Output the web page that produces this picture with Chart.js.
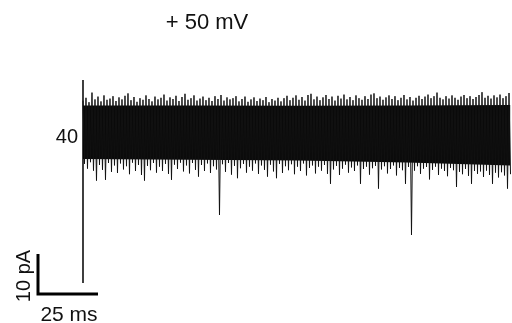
<!DOCTYPE html>
<html>
<head>
<meta charset="utf-8">
<script src="https://cdn.jsdelivr.net/npm/chart.js@4"></script>
<style>
  body { margin: 0; background: #fff; }
  #trace { display: block; }
</style>
</head>
<body>
<canvas id="trace" width="512" height="323"></canvas>
<script>
// single channel recording, +50 mV. time in ms, current in pA
const PAIR_MS = 1.25;

// upper excursions of the trace (pA), one per PAIR_MS
const tops = [
  47.6, 48.3, 47.2, 49.6, 47.9, 48.6, 47.4, 48.9, 47.8, 48.1,
  48.7, 47.5, 48.4, 47.9, 48.8, 49.4, 47.7, 48.5, 47.3, 48.2,
  47.8, 48.9, 48.0, 47.4, 48.6, 47.9, 48.3, 49.1, 47.6, 48.4,
  48.0, 48.8, 47.5, 48.5, 49.3, 47.8, 48.2, 48.9, 47.6, 48.1,
  48.6, 47.7, 48.3, 47.5, 48.7, 48.0, 49.0, 47.6, 48.4, 47.9,
  48.2, 48.7, 47.4, 48.0, 48.6, 47.3, 47.9, 48.4, 47.5, 48.1,
  47.7, 48.5, 47.2, 48.0, 47.6, 48.3, 47.4, 48.2, 48.8, 47.7,
  48.3, 48.9, 47.8, 48.5, 47.6, 49.0, 49.3, 47.9, 48.6, 47.7,
  48.4, 49.0, 48.0, 48.6, 47.6, 48.8, 48.1, 49.1, 47.9, 48.5,
  47.7, 48.9, 48.2, 47.8, 48.7, 48.0, 49.1, 49.4, 48.2, 48.6,
  47.8, 48.4, 48.9, 48.0, 48.7, 47.7, 48.3, 49.0, 47.9, 48.5,
  47.6, 48.3, 48.8, 48.0, 48.6, 49.1, 48.2, 48.7, 49.6, 48.3,
  47.9, 48.7, 48.1, 48.9, 48.3, 47.8, 48.6, 49.0, 48.2, 48.7,
  48.0, 48.5, 49.0, 49.7, 48.3, 48.8, 48.1, 48.9, 48.4, 49.1,
  48.2, 48.7, 49.5
];

// lower excursions of the trace (pA)
const bottoms = [
  31.8, 30.6, 32.2, 30.1, 27.6, 31.5, 30.3, 27.8, 32.0, 29.8,
  31.4, 29.5, 31.9, 30.4, 31.2, 29.2, 32.1, 30.0, 31.5, 29.0,
  27.6, 31.3, 30.2, 32.0, 29.6, 31.1, 30.0, 31.8, 29.3, 27.8,
  31.6, 30.5, 32.1, 29.9, 31.4, 29.4, 32.0, 30.3, 28.6, 31.5,
  30.0, 31.9, 29.5, 31.2, 30.4, 19.0, 31.7, 29.8, 32.0, 29.1,
  31.3, 28.2, 30.7, 31.8, 29.6, 31.1, 30.1, 31.9, 29.3, 31.4,
  30.3, 28.6, 31.6, 29.9, 28.2, 31.8, 29.5, 31.2, 30.2, 31.7,
  29.2, 31.1, 30.0, 31.9, 28.9, 30.8, 31.4, 29.4, 31.1, 30.1,
  31.5, 29.3, 26.8, 30.4, 31.3, 29.0, 30.6, 31.6, 29.6, 30.9,
  30.0, 31.4, 26.8, 30.5, 31.1, 29.1, 30.7, 31.3, 25.6, 30.4,
  31.2, 29.4, 30.5, 31.4, 28.9, 30.8, 30.2, 26.8, 31.0, 14.0,
  30.1, 31.2, 29.3, 30.6, 31.0, 27.9, 30.3, 31.1, 29.0, 30.6,
  30.0, 28.7, 30.8, 30.2, 26.0, 29.8, 29.2, 30.5, 28.8, 26.8,
  30.0, 29.3, 29.9, 28.5, 30.1, 29.0, 26.8, 29.6, 28.4, 29.7,
  28.9, 25.6, 29.2
];

// the densely filled part of the noise band (pA)
const coreX = [0, 45, 90, 135, 178.1];
const coreTop = [46.4, 46.4, 46.3, 46.4, 46.5];
const coreBottom = [33.0, 32.8, 32.6, 32.1, 31.4];

// onset marker at t = 0
const markerX = [0, 0];
const markerY = [52.75, 2.0];

// scale bar: 10 pA / 25 ms
const scaleBarX = [-18.75, -18.75, 6.25];
const scaleBarY = [9.25, -0.75, -0.75];

const traceData = [];
for (let i = 0; i < tops.length; i++) {
  traceData.push({ x: i * PAIR_MS, y: tops[i] });
  traceData.push({ x: i * PAIR_MS + PAIR_MS / 2, y: bottoms[i] });
}
const toPoints = (xs, ys) => xs.map((x, i) => ({ x: x, y: ys[i] }));

const FONT = "'Liberation Sans', Arial, sans-serif";

const labels = {
  id: 'labels',
  afterDraw(chart) {
    const ctx = chart.ctx;
    ctx.save();
    ctx.fillStyle = '#111';
    ctx.textBaseline = 'alphabetic';

    ctx.font = '22px ' + FONT;
    ctx.textAlign = 'center';
    ctx.fillText('+ 50 mV', 207, 29);

    ctx.font = '20px ' + FONT;
    ctx.textAlign = 'right';
    ctx.fillText('40', 78, 143);

    ctx.font = '21px ' + FONT;
    ctx.textAlign = 'center';
    ctx.fillText('25 ms', 69, 321);

    ctx.font = '20px ' + FONT;
    ctx.translate(30, 276);
    ctx.rotate(-Math.PI / 2);
    ctx.fillText('10 pA', 0, 0);
    ctx.restore();
  }
};

new Chart(document.getElementById('trace'), {
  type: 'line',
  data: {
    datasets: [
      {
        data: traceData,
        borderColor: '#111',
        borderWidth: 1,
        pointRadius: 0,
        tension: 0
      },
      {
        data: toPoints(markerX, markerY),
        borderColor: '#000',
        borderWidth: 1.5,
        pointRadius: 0
      },
      {
        data: toPoints(scaleBarX, scaleBarY),
        borderColor: '#000',
        borderWidth: 3,
        borderJoinStyle: 'miter',
        pointRadius: 0
      },
      {
        data: toPoints(coreX, coreTop),
        borderWidth: 0,
        borderColor: 'rgba(0,0,0,0)',
        pointRadius: 0
      },
      {
        data: toPoints(coreX, coreBottom),
        borderWidth: 0,
        borderColor: 'rgba(0,0,0,0)',
        backgroundColor: '#0a0a0a',
        fill: '-1',
        pointRadius: 0
      }
    ]
  },
  options: {
    responsive: false,
    animation: false,
    events: [],
    layout: { padding: 0 },
    plugins: {
      legend: { display: false },
      tooltip: { enabled: false },
      title: { display: false }
    },
    scales: {
      x: { type: 'linear', display: false, min: -34.5833, max: 178.75 },
      y: { type: 'linear', display: false, min: -8, max: 72.75 }
    }
  },
  plugins: [labels]
});
</script>
</body>
</html>
